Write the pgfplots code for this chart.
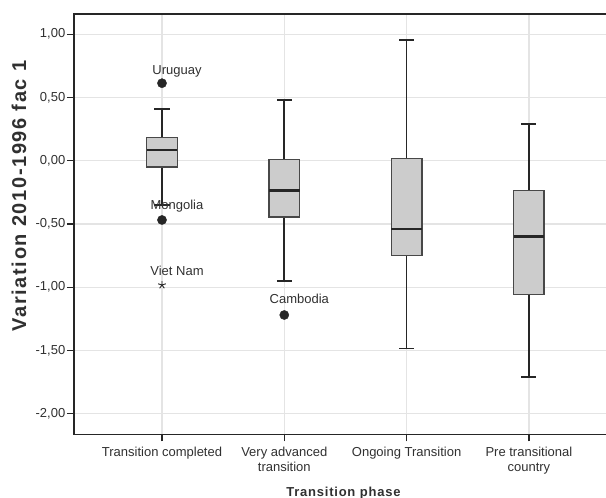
\documentclass[border=0pt]{standalone}
\usepackage{pgfplots}
\pgfplotsset{compat=1.18}
\usepgfplotslibrary{statistics}
\usepackage{fontspec}
\setmainfont{Liberation Sans}
\definecolor{gridc}{HTML}{E4E4E4}
\definecolor{boxfill}{HTML}{CCCCCC}
\definecolor{boxedge}{HTML}{484848}
\definecolor{dk}{HTML}{262626}
\definecolor{txt}{HTML}{303030}

\begin{document}
\begin{tikzpicture}
\begin{axis}[
  at={(0,0)}, anchor=south west,
  scale only axis, width=535.6bp, height=420.3bp,
  xmin=-0.7195, xmax=3.66, ymin=-2.162, ymax=1.160,
  xtick={0,1,2,3},
  xticklabels={Transition completed,{Very advanced\\transition},Ongoing Transition,{Pre transitional\\country}},
  ytick={-2,-1.5,-1,-0.5,0,0.5,1},
  yticklabels={{-2,00},{-1,50},{-1,00},{-0,50},{0,00},{0,50},{1,00}},
  grid=major, grid style={draw=gridc, line width=1.3bp},
  axis line style={draw=dk, line width=1.5bp},
  tick align=outside, major tick length=7bp,
  tick style={draw=dk, line width=1.3bp},
  xtick pos=bottom, ytick pos=left,
  xticklabel style={font=\fontsize{13bp}{14.5bp}\selectfont, text=txt, align=center, anchor=north, inner sep=2bp, yshift=-4bp},
  yticklabel style={font=\fontsize{13bp}{15bp}\selectfont, text=txt, inner sep=1.5bp},
  xlabel={Transition phase},
  xlabel style={font=\bfseries\fontsize{13bp}{15bp}\selectfont\addfontfeature{LetterSpace=6}, text=txt, at={(axis description cs:0.503,-0.1468)}, anchor=base},
  ylabel={Variation 2010-1996 fac 1},
  ylabel style={font=\bfseries\fontsize{20bp}{24bp}\selectfont\addfontfeature{LetterSpace=8}, text=txt, at={(axis description cs:-0.1027,0.567)}, anchor=center},
  boxplot/draw direction=y,
  boxplot/box extend=0.25,
  boxplot/whisker extend=0.123,
  boxplot/every box/.style={draw=boxedge, fill=boxfill, line width=1.4bp},
  boxplot/every whisker/.style={draw=dk, line width=1.7bp},
  boxplot/every median/.style={draw=dk, line width=2.4bp},
  clip=false,
]
\addplot[draw=dk, line width=1.7bp, boxplot prepared={draw position=0, median=0.085, upper quartile=0.183, lower quartile=-0.049, upper whisker=0.409, lower whisker=-0.35}] coordinates {};
\addplot[draw=dk, line width=1.7bp, boxplot prepared={draw position=1, median=-0.236, upper quartile=0.012, lower quartile=-0.444, upper whisker=0.481, lower whisker=-0.948}] coordinates {};
\addplot[draw=dk, line width=1.7bp, boxplot prepared={draw position=2, median=-0.539, upper quartile=0.020, lower quartile=-0.750, upper whisker=0.955, lower whisker=-1.485}] coordinates {};
\addplot[draw=dk, line width=1.7bp, boxplot prepared={draw position=3, median=-0.600, upper quartile=-0.236, lower quartile=-1.055, upper whisker=0.289, lower whisker=-1.711}] coordinates {};
% outliers
\addplot[only marks, mark=*, mark size=4.6bp, draw=dk, fill=dk] coordinates {(0,0.613) (0,-0.468) (1,-1.219)};
% extreme
\addplot[only marks, mark=star, mark size=4bp, draw=dk, line width=0.9bp] coordinates {(0,-0.982)};
\node[font=\fontsize{13bp}{15bp}\selectfont, text=txt, anchor=base, xshift=15bp, yshift=8.5bp, inner sep=0pt] at (axis cs:0,0.613) {Uruguay};
\node[font=\fontsize{13bp}{15bp}\selectfont, text=txt, anchor=base, xshift=15bp, yshift=10.5bp, inner sep=0pt] at (axis cs:0,-0.468) {Mongolia};
\node[font=\fontsize{13bp}{15bp}\selectfont, text=txt, anchor=base, xshift=15bp, yshift=9.5bp, inner sep=0pt] at (axis cs:0,-0.982) {Viet Nam};
\node[font=\fontsize{13bp}{15bp}\selectfont, text=txt, anchor=base, xshift=15bp, yshift=11bp, inner sep=0pt] at (axis cs:1,-1.219) {Cambodia};
\end{axis}
\pgfresetboundingbox
\useasboundingbox (-74bp,-63.7bp) rectangle (532bp,434.3bp);
\end{tikzpicture}
\end{document}
